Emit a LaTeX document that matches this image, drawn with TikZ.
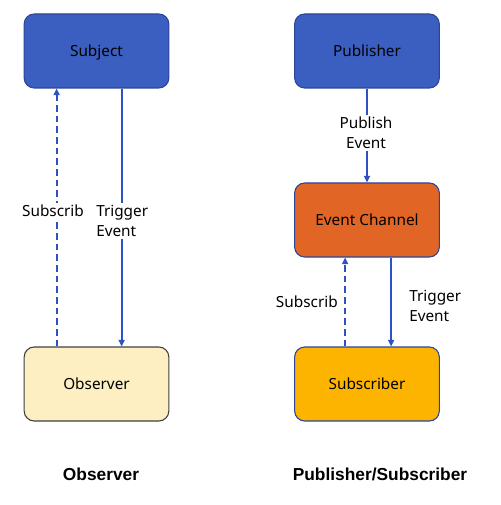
\documentclass[tikz,border=0pt]{standalone}
\usepackage{fontspec}
\setmainfont{Noto Sans}
\newfontfamily\titlefont{Liberation Sans}
\usetikzlibrary{arrows.meta,calc}
\definecolor{subjblue}{HTML}{3A5FC1}
\definecolor{subjborder}{HTML}{2B4696}
\definecolor{obsfill}{HTML}{FDEFC2}
\definecolor{chanfill}{HTML}{E16525}
\definecolor{subfill}{HTML}{FDB400}
\definecolor{arrowblue}{HTML}{2E52C4}
\begin{document}
\begin{tikzpicture}[x=0.75pt,y=-0.75pt,
  box/.style={draw=#1,line width=0.8pt,rounded corners=7.5pt,minimum width=108.5pt,minimum height=55.5pt,text height=10.5pt,text depth=2pt,font=\fontsize{11.5}{15}\selectfont,text=black},
  conn/.style={arrowblue,line width=1.3pt,-{Triangle[length=5pt,width=4.5pt]}},
  dconn/.style={conn,dash pattern=on 5pt off 3pt},
  lbl/.style={fill=white,inner sep=1.5pt,font=\fontsize{11.5}{15}\selectfont,text=black},
  ttl/.style={font=\titlefont\bfseries\fontsize{13}{15}\selectfont}]
\useasboundingbox (0,0) rectangle (500,505);
\node[box=subjborder,fill=subjblue] (subject) at (96.5,51) {Subject};
\node[box=black!75,fill=obsfill] (observer) at (96.5,384) {Observer};
\node[box=subjborder,fill=subjblue] (publisher) at (367,51) {Publisher};
\node[box=subjborder,fill=chanfill] (channel) at (367,220) {Event Channel};
\node[box=subjborder,fill=subfill] (subscriber) at (367,384) {Subscriber};
% left
\draw[dconn] ($(observer.north west)+(33,0)$) -- ($(subject.south west)+(33,0)$);
\draw[conn] ($(subject.south west)+(98,0)$) -- ($(observer.north west)+(98,0)$);
\node[lbl] (lsub) at (53,211) {Subscrib};
\node[lbl,align=left,anchor=west] (ltrig) at (94,221) {Trigger\\Event};
% right
\draw[conn] (publisher.south) -- (channel.north);
\node[lbl,align=center] (pub) at (366,133) {Publish\\Event};
\draw[dconn] ($(subscriber.north west)+(51,0)$) -- ($(channel.south west)+(51,0)$);
\draw[conn] ($(channel.south west)+(97,0)$) -- ($(subscriber.north west)+(97,0)$);
\node[lbl,anchor=east] (rsub) at (340,302) {Subscrib};
\node[lbl,align=left,anchor=west] (rtrig) at (407,306) {Trigger\\Event};
% titles
\node[ttl] (t1) at (101,474) {Observer};
\node[ttl] (t2) at (380,474) {Publisher/Subscriber};
\end{tikzpicture}
\end{document}
